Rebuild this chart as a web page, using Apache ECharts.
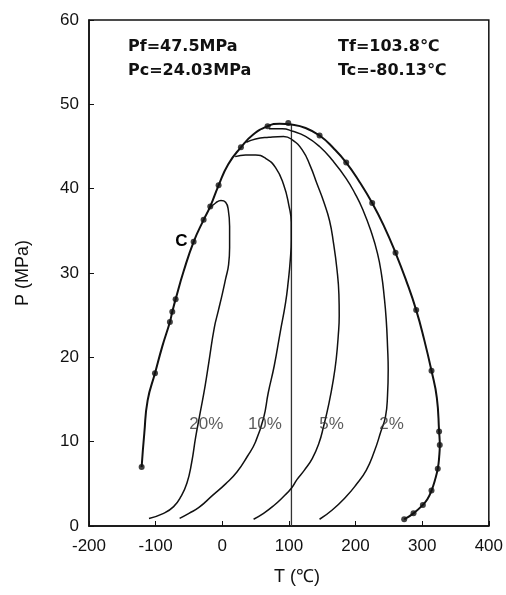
<!DOCTYPE html>
<html>
<head>
<meta charset="utf-8">
<script src="https://cdn.jsdelivr.net/npm/echarts@6/dist/echarts.min.js"></script>
<style>
  html, body { margin: 0; padding: 0; background: #fff; }
  #chart { width: 506px; height: 595px; }
</style>
</head>
<body>
<div id="chart"></div>
<script>
// Phase envelope (T in °C, P in MPa)
const envelope = [
  [-121, 7], [-117, 11], [-112, 14.9], [-101, 18.1], [-90, 21.3], [-78.6, 24.2],
  [-75, 25.4], [-70, 26.9], [-58, 30.2], [-43, 33.7], [-28, 36.3], [-18, 37.9],
  [-5.5, 40.4], [9, 42.9], [28, 44.9], [46, 46.4], [68, 47.4], [86, 47.7],
  [103.8, 47.6], [125, 47.2], [146, 46.3], [167, 44.8], [186, 43.1], [206, 40.8],
  [225, 38.3], [243, 35.5], [260, 32.4], [276, 29.1], [291, 25.6], [303, 22.1],
  [314, 18.4], [322, 15.2], [325.4, 11.2], [326.4, 9.6], [325.5, 8.2], [323.4, 6.8],
  [319, 5.4], [314, 4.2], [308, 3.2], [301, 2.5], [287, 1.5], [273, 0.8]
];

// Measured points on the envelope
const measured = [
  [-121, 7], [-101, 18.1], [-78.6, 24.2], [-75, 25.4], [-70, 26.9], [-43, 33.7],
  [-28, 36.3], [-18, 37.9], [-5.5, 40.4], [28, 44.9], [68, 47.4], [99, 47.8],
  [146, 46.3], [186, 43.1], [225, 38.3], [260, 32.4], [291, 25.6], [314, 18.4],
  [325.4, 11.2], [326.4, 9.6], [323.4, 6.8], [314, 4.2], [301, 2.5], [287, 1.5], [273, 0.8]
];

// Iso-quality lines
const q20 = [
  [-20, 37.6], [-10, 38.3], [-2, 38.6], [5, 38.4], [9, 37.5], [11, 35.5], [11, 33],
  [9.5, 31], [5, 29.3], [0, 27.5], [-6, 25.5], [-12, 23.5], [-20, 19.5], [-26, 16.5],
  [-33, 13.5], [-40, 10.5], [-46, 7.5], [-53, 5.1], [-62, 3.5], [-73, 2.3], [-88, 1.5], [-110, 0.9]
];
const q10 = [
  [19.4, 43.8], [35, 44], [50, 44], [65, 43.6], [80, 42.5], [92, 40.5], [100, 38],
  [103.5, 36], [103.5, 34], [102, 31.5], [99, 29], [95, 26.5], [87, 23], [78, 19], [69, 15.8],
  [62, 12.8], [50, 10], [38, 8.3], [22, 6.4], [5, 5], [-15, 3.6], [-35, 2.2],
  [-50, 1.5], [-64, 0.9]
];
const q5 = [
  [36, 45.5], [50, 45.9], [70, 46.1], [92, 46.2], [105, 45.8], [120, 44.6], [132, 42.7],
  [142, 40.6], [152, 38.5], [161, 36.2], [167, 33.5], [172, 30.5], [175, 27.5],
  [175.5, 25], [174, 22.5], [171, 19.8], [167, 17.5], [160, 14.5], [152, 11.8], [145, 9.8], [135, 8],
  [123, 6.6], [112, 5.5], [104, 4.5], [92, 3.5], [77, 2.4], [62, 1.5], [47, 0.8]
];
const q2 = [
  [70, 47.1], [90, 47.1], [106, 46.8], [125, 46.2], [146, 45], [166, 43.3], [186, 41.2],
  [200, 39.3], [211, 37.5], [223, 35], [233, 32.3], [239, 29.8], [243, 27.2],
  [246, 24.5], [248, 21.3], [249, 18.5], [248, 15.5], [245, 13], [238, 11.2],
  [228, 8.8], [216, 6.6], [200, 4.8], [186, 3.5], [165, 1.9], [146, 0.8]
];

// Vertical line at the cricondentherm
const cricondentherm = [[103.8, 0], [103.8, 47.6]];

const xTicks = [-200, -100, 0, 100, 200, 300, 400];
const yTicks = [0, 10, 20, 30, 40, 50, 60];

const qualityLabels = [
  { text: '20%', T: -24, P: 12 },
  { text: '10%', T: 64, P: 12 },
  { text: '5%', T: 164, P: 12 },
  { text: '2%', T: 254, P: 12 }
];

const criticalPoint = { text: 'C', T: -43, P: 33.7 };

const chart = echarts.init(document.getElementById('chart'), null, { renderer: 'canvas' });

const font = '"Liberation Sans", Arial, sans-serif';
const boxFont = '"DejaVu Sans", sans-serif';

function curve(data, width) {
  return {
    type: 'line', data: data, smooth: 0.5, showSymbol: false, symbol: 'none',
    lineStyle: { color: '#111', width: width }, silent: true, z: 3
  };
}

chart.setOption({
  animation: false,
  backgroundColor: '#fff',
  grid: { left: 89, right: 16, top: 20, bottom: 69, show: true, borderColor: '#111', borderWidth: 1.5 },
  xAxis: {
    type: 'value', min: xTicks[0], max: xTicks[xTicks.length - 1], interval: 100,
    name: 'T (℃)', nameLocation: 'middle', nameGap: 42,
    nameTextStyle: { fontFamily: font, fontSize: 18, color: '#111', padding: [0, 0, 0, 16] },
    axisLine: { onZero: false, lineStyle: { color: '#111', width: 1.5 } },
    axisTick: { inside: true, length: 5, lineStyle: { color: '#111' } },
    axisLabel: { fontFamily: font, fontSize: 17, color: '#111', margin: 12 },
    splitLine: { show: false }
  },
  yAxis: {
    type: 'value', min: yTicks[0], max: yTicks[yTicks.length - 1], interval: 10,
    name: 'P (MPa)', nameLocation: 'middle', nameGap: 57, nameRotate: 90,
    nameTextStyle: { fontFamily: font, fontSize: 18, color: '#111' },
    axisLine: { onZero: false, lineStyle: { color: '#111', width: 1.5 } },
    axisTick: { inside: true, length: 5, lineStyle: { color: '#111' } },
    axisLabel: { fontFamily: font, fontSize: 17, color: '#111', margin: 10 },
    splitLine: { show: false }
  },
  series: [
    curve(envelope, 2),
    curve(q20, 1.5),
    curve(q10, 1.5),
    curve(q5, 1.5),
    curve(q2, 1.5),
    {
      type: 'line', data: cricondentherm, showSymbol: false, symbol: 'none',
      lineStyle: { color: '#333', width: 1.3 }, silent: true, z: 2
    },
    {
      type: 'scatter', data: measured, symbol: 'circle', symbolSize: 6,
      itemStyle: { color: '#111' }, silent: true, z: 4
    },
    {
      type: 'scatter', data: qualityLabels.map(d => ({ value: [d.T, d.P], name: d.text })),
      symbolSize: 0, silent: true, z: 5,
      label: {
        show: true, position: 'inside', formatter: p => p.name,
        fontFamily: font, fontSize: 17, color: '#333'
      }
    },
    {
      type: 'scatter', data: [{ value: [criticalPoint.T, criticalPoint.P], name: criticalPoint.text }],
      symbolSize: 0, silent: true, z: 5,
      itemStyle: { color: '#000', opacity: 1 },
      label: {
        show: true, position: 'left', distance: 6, formatter: p => p.name,
        fontFamily: font, fontSize: 17, fontWeight: 'bold', color: '#000', opacity: 1
      }
    }
  ],
  graphic: [
    { type: 'text', left: 128, top: 39, style: { text: 'Pf=47.5MPa', font: 'bold 16px ' + boxFont, fill: '#111' } },
    { type: 'text', left: 128, top: 63, style: { text: 'Pc=24.03MPa', font: 'bold 16px ' + boxFont, fill: '#111' } },
    { type: 'text', left: 338, top: 39, style: { text: 'Tf=103.8℃', font: 'bold 16px ' + boxFont, fill: '#111' } },
    { type: 'text', left: 338, top: 63, style: { text: 'Tc=-80.13℃', font: 'bold 16px ' + boxFont, fill: '#111' } }
  ]
});
</script>
</body>
</html>
